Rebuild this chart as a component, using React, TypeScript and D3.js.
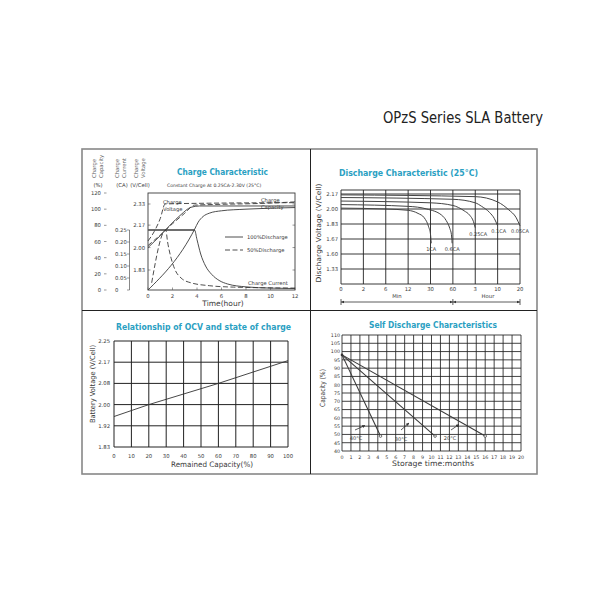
import React from "react";
import * as d3 from "d3";

type Pt = [number, number];

const FONT = "'DejaVu Sans', Verdana, sans-serif";
const TEAL = "#2aa0c2";
const INK = "#3a3a3a";
const GRID = "#222";

// ---------- Charge characteristic ----------
const chargeHours = [0, 2, 4, 6, 8, 10, 12];
const capacityTicks = [0, 20, 40, 60, 80, 100, 120];
const currentTicks = [0, 0.05, 0.1, 0.15, 0.2, 0.25];
const chargeVoltTicks = [1.83, 2.0, 2.17, 2.33];

const volt100: Pt[] = [[0, 2.0], [1, 2.09], [1.8, 2.17], [2.7, 2.25], [3.5, 2.305], [4.2, 2.315], [12, 2.315]];
const volt50: Pt[] = [[0, 2.05], [0.5, 2.12], [1, 2.22], [1.4, 2.33], [4, 2.335], [12, 2.34]];
const current100: Pt[] = [[0, 0.25], [3.8, 0.25], [4.0, 0.21], [4.3, 0.15], [4.7, 0.1], [5.2, 0.065], [5.8, 0.04], [6.5, 0.025], [8, 0.013], [10, 0.008], [12, 0.006]];
const current50: Pt[] = [[0.3, 0.03], [1.45, 0.25], [1.6, 0.2], [1.9, 0.13], [2.2, 0.085], [2.7, 0.05], [3.5, 0.03], [5, 0.018], [7, 0.012], [12, 0.008]];
const capacity100: Pt[] = [[0, 0], [3.8, 75], [4.1, 84], [4.5, 91], [5, 95], [6, 98], [8, 100], [12, 102]];
const capacity50: Pt[] = [[0, 55], [1, 68], [2, 82], [3, 95], [3.8, 105], [6, 106], [9, 107], [12, 109]];

// ---------- Discharge characteristic ----------
const dischargeMinutes = [0, 2, 6, 12, 30, 60, 180, 600, 1200];
const dischargeTickLabels = ["0", "2", "6", "12", "30", "60", "3", "10", "20"];
const dischargeVolts = [1.33, 1.6, 1.67, 1.83, 2.0, 2.17];

const rate1CA: Pt[] = [[0, 2.01], [6, 2.0], [12, 1.985], [20, 1.95], [25, 1.9], [28.5, 1.8], [30, 1.72], [31, 1.65]];
const rate06CA: Pt[] = [[0, 2.05], [12, 2.03], [27, 2.0], [45, 1.93], [51, 1.87], [56, 1.78], [58, 1.72], [59, 1.65]];
const rate025CA: Pt[] = [[0, 2.09], [30, 2.07], [60, 2.04], [120, 1.98], [150, 1.93], [170, 1.86], [180, 1.79]];
const rate01CA: Pt[] = [[0, 2.13], [60, 2.11], [180, 2.07], [300, 2.03], [450, 1.96], [540, 1.89], [600, 1.81]];
const rate005CA: Pt[] = [[0, 2.16], [180, 2.14], [600, 2.08], [900, 1.99], [1100, 1.9], [1200, 1.81]];

const dischargeSeries = [
  { name: "1CA", data: rate1CA, dx: 0, dy: 8 },
  { name: "0.6CA", data: rate06CA, dx: 0, dy: 8 },
  { name: "0.25CA", data: rate025CA, dx: 3, dy: 8 },
  { name: "0.1CA", data: rate01CA, dx: 1, dy: 7 },
  { name: "0.05CA", data: rate005CA, dx: 0, dy: 7 },
];

// ---------- OCV vs state of charge ----------
const ocvCapacityTicks = [0, 10, 20, 30, 40, 50, 60, 70, 80, 90, 100];
const ocvVoltTicks = [1.83, 1.92, 2.0, 2.08, 2.17, 2.25];
const ocvLine: Pt[] = [[0, 1.955], [20, 2.0], [60, 2.08], [100, 2.176]];

// ---------- Self discharge ----------
const storageMonths = d3.range(0, 21);
const selfCapTicks = d3.range(40, 111, 5);
const selfDischarge = [
  { name: "40°C", data: [[0, 98], [4.3, 49]] as Pt[], label: [356, 440], arrow: [[355, 430], [365, 425.5]] },
  { name: "30°C", data: [[0, 98], [10.4, 49]] as Pt[], label: [401, 441], arrow: [[401, 430], [409, 423]] },
  { name: "20°C", data: [[0, 98], [16, 49]] as Pt[], label: [450, 440], arrow: [[451, 430], [459, 424.5]] },
];

const Title = ({ x, y, len, text }: { x: number; y: number; len: number; text: string }) => (
  <text x={x} y={y} textAnchor="middle" fontSize={9} fontWeight="bold" fill={TEAL}
    textLength={len} lengthAdjust="spacingAndGlyphs" fontFamily={FONT}>{text}</text>
);

const ChargePanel = () => {
  const x = d3.scaleLinear().domain([0, 12]).range([148, 295]);
  const capY = d3.scaleLinear().domain([0, 120]).range([290, 193]);
  const curY = d3.scaleLinear().domain([0, 0.25]).range([290, 230]);
  const voltY = d3.scaleLinear().domain([1.83, 2.33]).range([270, 204]);
  const mk = (ys: d3.ScaleLinear<number, number>) =>
    d3.line<Pt>().x(d => x(d[0])).y(d => ys(d[1])).curve(d3.curveMonotoneX);
  const solid = { fill: "none", stroke: INK, strokeWidth: 0.9 };
  const dashed = { ...solid, strokeDasharray: "5,2.5" };
  const fmt2 = d3.format(".2f");
  return (
    <g fontFamily={FONT} fill="#3a3a3a">
      <Title x={222.5} y={175} len={91} text="Charge Characteristic" />
      {[
        ["Charge", "Capacity", 95.5, 102.5],
        ["Charge", "Current", 119, 126],
        ["Charge", "Voltage", 138, 145],
      ].map(([a, b, x1, x2]) => (
        <g key={a + b} fontSize={5.3} fill="#666">
          <text transform={`translate(${x1},178) rotate(-90)`}>{a}</text>
          <text transform={`translate(${x2},178) rotate(-90)`}>{b}</text>
        </g>
      ))}
      <g fontSize={5.3} textAnchor="middle">
        <text x={98} y={187}>(%)</text>
        <text x={122} y={187}>(CA)</text>
        <text x={140} y={187}>(V/Cell)</text>
      </g>
      <text x={167} y={187} fontSize={4.6}>Constant Charge At 0.25CA-2.30V  (25°C)</text>
      {capacityTicks.map(t => (
        <g key={t}>
          <text x={101} y={capY(t) + 2} fontSize={5.3} textAnchor="end">{t}</text>
          <line x1={104} x2={106.5} y1={capY(t)} y2={capY(t)} stroke="#555" strokeWidth={0.6} />
        </g>
      ))}
      <line x1={129.5} x2={129.5} y1={curY(0.25)} y2={curY(0)} stroke="#555" strokeWidth={0.7} />
      {currentTicks.map(t => (
        <g key={t}>
          <text x={115} y={curY(t) + 2} fontSize={5.3}>{t === 0 ? "0" : fmt2(t)}</text>
          <line x1={127} x2={129.5} y1={curY(t)} y2={curY(t)} stroke="#555" strokeWidth={0.6} />
        </g>
      ))}
      {chargeVoltTicks.map(t => (
        <g key={t}>
          <text x={145} y={voltY(t) + 2} fontSize={5.3} textAnchor="end">{fmt2(t)}</text>
          <line x1={148} x2={150.5} y1={voltY(t)} y2={voltY(t)} stroke="#555" strokeWidth={0.6} />
          <line x1={292.5} x2={295} y1={voltY(t)} y2={voltY(t)} stroke="#555" strokeWidth={0.6} />
        </g>
      ))}
      <rect x={148} y={193} width={147} height={97} fill="none" stroke={INK} strokeWidth={0.9} />
      {chargeHours.map(t => (
        <g key={t}>
          <line x1={x(t)} x2={x(t)} y1={290} y2={287.5} stroke="#555" strokeWidth={0.6} />
          <text x={x(t)} y={298} fontSize={5.3} textAnchor="middle">{t}</text>
        </g>
      ))}
      <text x={223} y={306} fontSize={7.5} textAnchor="middle">Time(hour)</text>
      <line x1={148} x2={195} y1={curY(0.25)} y2={curY(0.25)} stroke="#777" strokeWidth={1.6} />
      <path d={mk(capY)(capacity100) ?? ""} {...solid} />
      <path d={mk(curY)(current100) ?? ""} {...solid} />
      <path d={mk(voltY)(volt100) ?? ""} {...solid} />
      <path d={mk(capY)(capacity50) ?? ""} {...dashed} />
      <path d={mk(curY)(current50) ?? ""} {...dashed} />
      <path d={mk(voltY)(volt50) ?? ""} {...dashed} />
      <g fontSize={5.2}>
        <text x={163} y={203.5}>Charge</text>
        <text x={163} y={210.5}>Voltage</text>
        <text x={261} y={201.5}>Charge</text>
        <text x={261} y={208.5}>Capacity</text>
        <line x1={225} x2={243} y1={237} y2={237} {...solid} />
        <text x={247} y={239}>100%Discharge</text>
        <line x1={225} x2={243} y1={250} y2={250} {...dashed} />
        <text x={247} y={252}>50%Discharge</text>
        <text x={248} y={285}>Charge Current</text>
      </g>
    </g>
  );
};

const DischargePanel = () => {
  const step = (520 - 341) / 8;
  const x = d3.scaleLinear().domain(dischargeMinutes).range(dischargeMinutes.map((_, i) => 341 + i * step));
  const y = d3.scaleLinear().domain(dischargeVolts).range(dischargeVolts.map((_, i) => 269 - i * 15));
  const line = d3.line<Pt>().x(d => x(d[0])).y(d => y(d[1])).curve(d3.curveMonotoneX);
  const top = 190, bottom = 284;
  return (
    <g fontFamily={FONT} fill="#3a3a3a">
      <defs>
        <marker id="brk" viewBox="0 0 10 10" refX={10} refY={5} markerWidth={4} markerHeight={4} orient="auto-start-reverse">
          <path d="M0,1 L10,5 L0,9 Z" fill="#333" />
        </marker>
      </defs>
      <Title x={408.5} y={176} len={139} text="Discharge Characteristic  (25°C)" />
      {dischargeMinutes.map((m, i) => (
        <g key={m}>
          <line x1={x(m)} x2={x(m)} y1={top} y2={bottom} stroke={GRID} strokeWidth={0.9} />
          <text x={x(m)} y={291} fontSize={5.3} textAnchor="middle">{dischargeTickLabels[i]}</text>
        </g>
      ))}
      <line x1={341} x2={520} y1={top} y2={top} stroke={GRID} strokeWidth={0.9} />
      <line x1={341} x2={520} y1={bottom} y2={bottom} stroke={GRID} strokeWidth={0.9} />
      {dischargeVolts.map(v => (
        <g key={v}>
          <line x1={341} x2={520} y1={y(v)} y2={y(v)} stroke={GRID} strokeWidth={0.9} />
          <text x={338} y={y(v) + 2} fontSize={5.3} textAnchor="end">{d3.format(".2f")(v)}</text>
        </g>
      ))}
      {dischargeSeries.map(s => {
        const last = s.data[s.data.length - 1];
        return (
          <g key={s.name}>
            <path d={line(s.data) ?? ""} fill="none" stroke="#444" strokeWidth={1} />
            <text x={x(last[0]) + s.dx} y={y(last[1]) + s.dy} fontSize={5} textAnchor="middle">{s.name}</text>
          </g>
        );
      })}
      <text transform="translate(321,233) rotate(-90)" fontSize={7} textAnchor="middle"
        textLength={99} lengthAdjust="spacingAndGlyphs">Discharge Voltage (V/Cell)</text>
      <g stroke="#333" strokeWidth={0.8}>
        <line x1={341} x2={x(60)} y1={302} y2={302} markerStart="url(#brk)" markerEnd="url(#brk)" />
        <line x1={x(60)} x2={520} y1={302} y2={302} markerStart="url(#brk)" markerEnd="url(#brk)" />
        {[341, x(60), 520].map(p => <line key={p} x1={p} x2={p} y1={299} y2={305} />)}
      </g>
      <text x={397} y={298} fontSize={5.3} textAnchor="middle">Min</text>
      <text x={488} y={298} fontSize={5.3} textAnchor="middle">Hour</text>
    </g>
  );
};

const OcvPanel = () => {
  const x = d3.scaleLinear().domain([0, 100]).range([114, 288]);
  const y = d3.scaleLinear().domain(ocvVoltTicks).range(ocvVoltTicks.map((_, i) => 447 - i * 21.2));
  const line = d3.line<Pt>().x(d => x(d[0])).y(d => y(d[1]));
  return (
    <g fontFamily={FONT} fill="#3a3a3a">
      <Title x={203.5} y={329.5} len={175} text="Relationship of OCV and state of charge" />
      {ocvCapacityTicks.map(t => (
        <g key={t}>
          <line x1={x(t)} x2={x(t)} y1={y(2.25)} y2={y(1.83)} stroke={GRID} strokeWidth={1} />
          <text x={x(t)} y={457.5} fontSize={5.3} textAnchor="middle">{t}</text>
        </g>
      ))}
      {ocvVoltTicks.map(v => (
        <g key={v}>
          <line x1={114} x2={288} y1={y(v)} y2={y(v)} stroke={GRID} strokeWidth={1} />
          <text x={110} y={y(v) + 2} fontSize={5.3} textAnchor="end">{d3.format(".2f")(v)}</text>
        </g>
      ))}
      <path d={line(ocvLine) ?? ""} fill="none" stroke="#333" strokeWidth={0.9} />
      <text transform="translate(95,384) rotate(-90)" fontSize={7} textAnchor="middle"
        textLength={78} lengthAdjust="spacingAndGlyphs">Battery Voltage (V/Cell)</text>
      <text x={212} y={467} fontSize={7.5} textAnchor="middle" textLength={82}
        lengthAdjust="spacingAndGlyphs">Remained Capacity(%)</text>
    </g>
  );
};

const SelfPanel = () => {
  const x = d3.scaleLinear().domain([0, 20]).range([342, 521]);
  const y = d3.scaleLinear().domain([40, 110]).range([451, 335]);
  const line = d3.line<Pt>().x(d => x(d[0])).y(d => y(d[1]));
  return (
    <g fontFamily={FONT} fill="#3a3a3a">
      <defs>
        <marker id="arr" viewBox="0 0 10 10" refX={9} refY={5} markerWidth={4} markerHeight={4} orient="auto">
          <path d="M0,0 L10,5 L0,10 Z" fill="#333" />
        </marker>
      </defs>
      <Title x={433} y={328} len={128} text="Self Discharge Characteristics" />
      {storageMonths.map(m => (
        <g key={m}>
          <line x1={x(m)} x2={x(m)} y1={y(110)} y2={y(40)} stroke={GRID} strokeWidth={0.85} />
          <text x={x(m)} y={458.5} fontSize={4.8} textAnchor="middle">{m}</text>
        </g>
      ))}
      {selfCapTicks.map(c => (
        <g key={c}>
          <line x1={342} x2={521} y1={y(c)} y2={y(c)} stroke={GRID} strokeWidth={0.85} />
          <text x={340} y={y(c) + 1.8} fontSize={4.8} textAnchor="end">{c}</text>
        </g>
      ))}
      {selfDischarge.map(s => {
        const end = s.data[s.data.length - 1];
        return (
          <g key={s.name}>
            <path d={line(s.data) ?? ""} fill="none" stroke="#3a3a3a" strokeWidth={1.1} />
            <circle cx={x(end[0])} cy={y(end[1])} r={1.3} fill="#fff" stroke="#333" strokeWidth={0.7} />
            <line x1={s.arrow[0][0]} y1={s.arrow[0][1]} x2={s.arrow[1][0]} y2={s.arrow[1][1]}
              stroke="#333" strokeWidth={0.8} markerEnd="url(#arr)" />
            <text x={s.label[0]} y={s.label[1]} fontSize={5} textAnchor="middle">{s.name}</text>
          </g>
        );
      })}
      <circle cx={x(0)} cy={y(98)} r={1.3} fill="#333" />
      <text transform="translate(325,388) rotate(-90)" fontSize={7} textAnchor="middle"
        textLength={38} lengthAdjust="spacingAndGlyphs">Capacity (%)</text>
      <text x={433} y={466} fontSize={7.5} textAnchor="middle" textLength={82}
        lengthAdjust="spacingAndGlyphs">Storage time:months</text>
    </g>
  );
};

export default function App() {
  return (
    <svg width={600} height={600} style={{ position: "absolute", left: 0, top: 0, background: "#fff" }}>
      <rect x={0} y={0} width={600} height={600} fill="#fff" />
      <text x={383} y={123} fontSize={15} fill="#222" fontFamily={FONT}
        textLength={160} lengthAdjust="spacingAndGlyphs">OPzS Series SLA Battery</text>
      <rect x={82} y={149} width={455} height={325} fill="none" stroke="#888" strokeWidth={1.6} />
      <line x1={310.5} x2={310.5} y1={149} y2={474} stroke="#222" strokeWidth={1} />
      <line x1={82} x2={537} y1={310.5} y2={310.5} stroke="#222" strokeWidth={1} />
      <ChargePanel />
      <DischargePanel />
      <OcvPanel />
      <SelfPanel />
    </svg>
  );
}
